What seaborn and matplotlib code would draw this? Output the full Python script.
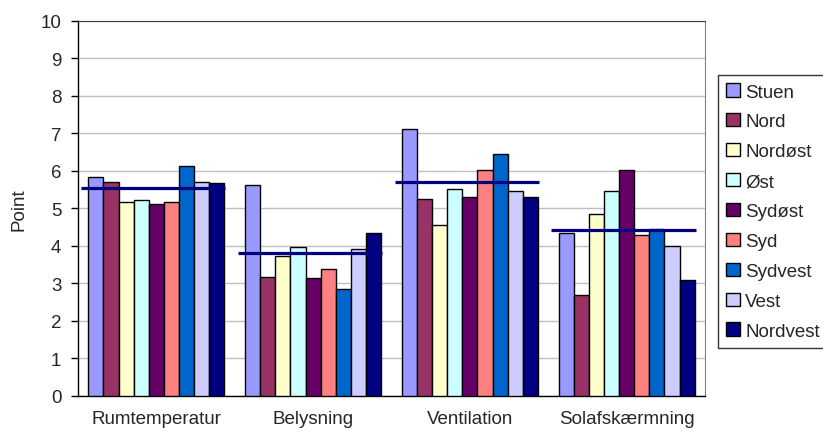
import numpy as np
import pandas as pd
import matplotlib
matplotlib.use("Agg")
import matplotlib.pyplot as plt
import seaborn as sns

# data
categories = ["Rumtemperatur", "Belysning", "Ventilation", "Solafskærmning"]
series = ["Stuen", "Nord", "Nordøst", "Øst", "Sydøst", "Syd", "Sydvest", "Vest", "Nordvest"]
colors = ["#9999FF", "#993366", "#FFFFCC", "#CCFFFF", "#660066",
          "#FF8080", "#0066CC", "#CCCCFF", "#000080"]

rumtemperatur = [5.84, 5.71, 5.18, 5.23, 5.12, 5.18, 6.13, 5.71, 5.68]
belysning = [5.61, 3.18, 3.73, 3.96, 3.15, 3.39, 2.85, 3.91, 4.35]
ventilation = [7.11, 5.25, 4.56, 5.51, 5.31, 6.03, 6.46, 5.47, 5.29]
solafskaermning = [4.33, 2.70, 4.85, 5.47, 6.03, 4.29, 4.44, 4.00, 3.08]
mean_line = [5.55, 3.81, 5.70, 4.42]

values = [rumtemperatur, belysning, ventilation, solafskaermning]
df = pd.DataFrame(
    [(c, s, v) for c, vals in zip(categories, values) for s, v in zip(series, vals)],
    columns=["kategori", "rum", "point"],
)

sns.set_style("white")
plt.rcParams["font.family"] = ["Liberation Sans", "DejaVu Sans"]
fs = 13.5

fig = plt.figure(figsize=(8.23, 4.35), dpi=100)
ax = fig.add_axes([78 / 823, 38.3 / 435, 627 / 823, 374.7 / 435])

sns.barplot(data=df, x="kategori", y="point", hue="rum", order=categories,
            hue_order=series, palette=dict(zip(series, colors)), width=0.868,
            saturation=1, edgecolor="black", linewidth=1, ax=ax, zorder=3)

# average line per category
for i, m in enumerate(mean_line):
    ax.hlines(m, i - 0.48, i + 0.44, color="#000080", lw=2.3, zorder=4)

ax.set_xlim(-0.5, len(categories) - 0.5)
ax.set_ylim(0, 10)
ax.set_yticks(range(0, 11))
ax.yaxis.grid(True, color="#C0C0C0", lw=1, zorder=0)
ax.set_axisbelow(True)

ax.set_xticks(range(len(categories)))
ax.set_xticklabels(categories, fontsize=fs)
ax.set_xticks(np.arange(-0.5, len(categories)), minor=True)
ax.tick_params(axis="x", which="major", length=0, pad=10)
ax.tick_params(axis="x", which="minor", length=5, width=1, color="black", direction="out")
ax.tick_params(axis="y", length=5, width=1, color="black", direction="out",
               pad=7, labelsize=fs, left=True)

ax.set_xlabel("")
ax.set_ylabel("Point", fontsize=fs, labelpad=9)

for side in ["left", "bottom"]:
    ax.spines[side].set_color("black")
    ax.spines[side].set_linewidth(1)
ax.spines["top"].set_color("#404040")
ax.spines["right"].set_color("#808080")

handles, labels = ax.get_legend_handles_labels()
ax.get_legend().remove()
leg = fig.legend(handles, labels, loc="upper left",
                 bbox_to_anchor=(718 / 823, 1 - 76 / 435), fontsize=fs,
                 frameon=True, fancybox=False, borderaxespad=0, borderpad=0.45,
                 handlelength=0.7, handleheight=0.7, handletextpad=0.3,
                 labelspacing=0.68)
leg.get_frame().set_edgecolor("black")
leg.get_frame().set_linewidth(1)

fig.savefig("out.png", dpi=100)
